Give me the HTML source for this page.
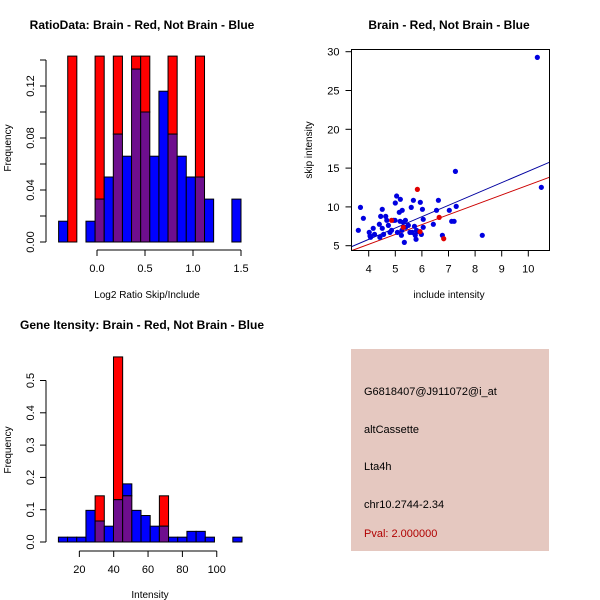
<!DOCTYPE html>
<html><head><meta charset="utf-8"><style>
html,body{margin:0;padding:0;background:#fff}
svg{display:block;font-family:"Liberation Sans",Arial,sans-serif}
</style></head><body>
<svg id="c" width="600" height="600" viewBox="0 0 600 600" xmlns="http://www.w3.org/2000/svg"></svg>
<script>
// ---- Panel 1: ratio histogram ----
const ratioBreakStart = -0.4, ratioBreakEnd = 1.5, ratioBins = 20;
const ratioBlue = [0.016,0,0,0.016,0.033,0.05,0.083,0.066,0.133,0.1,0.066,0.116,0.083,0.066,0.05,0.05,0.033,0,0,0.033];
const ratioRed  = [0,0.143,0,0,0.143,0,0.143,0,0.143,0.143,0,0,0.143,0,0,0.143,0,0,0,0];
const ratioYTicks = [0,0.02,0.04,0.06,0.08,0.10,0.12,0.14];
const ratioYLabels = ["0.00","","0.04","","0.08","","0.12",""];
const ratioXTicks = [0,0.5,1,1.5];
const ratioXLabels = ["0.0","0.5","1.0","1.5"];
// ---- Panel 3: intensity histogram ----
const intBreakStart = 7.8, intBreakEnd = 114.7, intBins = 20;
const intBlue = [0.015,0.015,0.015,0.098,0.065,0.049,0.131,0.18,0.098,0.082,0.049,0.049,0.015,0.015,0.033,0.033,0.015,0,0,0.015];
const intRed  = [0,0,0,0,0.143,0,0.573,0.143,0,0,0,0.143,0,0,0,0,0,0,0,0];
const intYTicks = [0,0.1,0.2,0.3,0.4,0.5];
const intYLabels = ["0.0","0.1","0.2","0.3","0.4","0.5"];
const intXTicks = [20,40,60,80,100];
const intXLabels = ["20","40","60","80","100"];
// ---- Panel 2: scatter ----
const blueX = [4.02,4.07,4.17,4.22,4.05,4.40,4.45,4.51,4.51,4.64,4.68,4.74,4.56,4.42,4.80,4.86,4.93,4.99,5.00,5.05,5.08,5.19,5.15,5.26,5.18,5.23,5.30,5.38,5.34,5.39,5.49,5.60,5.68,5.64,5.72,5.75,5.78,5.83,5.94,6.02,5.98,6.05,6.05,6.43,6.55,6.62,6.77,7.03,7.12,7.21,7.29,5.55,5.25,5.80,7.26,8.27,3.69,3.61,3.80,10.34,10.49];
const blueY = [6.72,6.08,7.24,6.46,6.25,7.76,8.78,9.69,7.24,8.78,8.27,7.62,6.46,6.08,6.72,6.98,8.27,8.27,10.50,11.40,6.72,10.98,9.30,9.56,8.14,6.34,8.01,8.27,5.43,7.37,7.62,9.94,10.85,6.72,7.50,6.34,5.82,6.81,10.59,9.69,6.46,8.40,7.37,7.76,9.56,10.85,6.34,9.56,8.14,8.14,10.07,6.72,6.98,6.98,14.58,6.34,9.94,6.98,8.53,29.27,12.52];
const redX = [5.83,6.65,6.82,4.86,5.30,5.93];
const redY = [12.26,8.65,5.90,8.27,7.37,6.81];
const blueFit = [-0.03,1.462]; // intercept, slope
const redFit = [0.09,1.272];
const scXTicks = [4,5,6,7,8,9,10];
const scYTicks = [5,10,15,20,25,30];

const NS="http://www.w3.org/2000/svg";
const svg=document.getElementById('c');
function mk(tag,attrs,parent){const e=document.createElementNS(NS,tag);for(const k in attrs)e.setAttribute(k,attrs[k]);(parent||svg).appendChild(e);return e;}
function txt(s,x,y,attrs,parent){const e=mk('text',Object.assign({x:x,y:y,'font-size':11,'text-anchor':'middle',fill:'#000'},attrs||{}),parent);e.textContent=s;return e;}

function hist(name,cfg){
  const g=mk('g',{});
  
  
  const xs=v=>cfg.x0px+(v-cfg.x0)*cfg.xScale;
  const ys=v=>cfg.y0px-v*cfg.yScale;
  const w=(cfg.bEnd-cfg.bStart)/cfg.n;
  for(let i=0;i<cfg.n;i++){
    const a=xs(cfg.bStart+i*w), b=xs(cfg.bStart+(i+1)*w);
    const bl=cfg.blue[i], rd=cfg.red[i], ov=Math.min(bl,rd);
    const segs=[];
    if(bl>rd) segs.push([rd,bl,'#0000ff']);
    if(rd>bl) segs.push([bl,rd,'#ff0000']);
    if(ov>0) segs.push([0,ov,'#6e0e8e']);
    segs.forEach(s=>{
      const r=mk('rect',{x:a,y:ys(s[1]),width:b-a,height:ys(s[0])-ys(s[1]),fill:s[2],stroke:'#000','stroke-width':1},g);
      
      
    });
  }
  // y axis
  const ya=mk('g',{},g);
  
  
  const yt=cfg.yTicks;
  mk('line',{x1:cfg.yAxisX,x2:cfg.yAxisX,y1:ys(yt[0]),y2:ys(yt[yt.length-1]),stroke:'#000'},ya);
  yt.forEach((t,i)=>{
    mk('line',{x1:cfg.yAxisX-6,x2:cfg.yAxisX,y1:ys(t),y2:ys(t),stroke:'#000'},ya);
    if(cfg.yLabels[i]) txt(cfg.yLabels[i],0,0,{transform:`translate(${cfg.yAxisX-12},${ys(t)}) rotate(-90)`},ya);
  });
  const xa=mk('g',{},g);
  
  
  const xt=cfg.xTicks;
  mk('line',{x1:xs(xt[0]),x2:xs(xt[xt.length-1]),y1:cfg.xAxisY,y2:cfg.xAxisY,stroke:'#000'},xa);
  xt.forEach((t,i)=>{
    mk('line',{x1:xs(t),x2:xs(t),y1:cfg.xAxisY,y2:cfg.xAxisY+6,stroke:'#000'},xa);
    txt(cfg.xLabels[i],xs(t),cfg.xAxisY+22,{},xa);
  });
}
hist('ratio-histogram',{x0:0,x0px:97,xScale:96,y0px:242,yScale:1300,bStart:ratioBreakStart,bEnd:ratioBreakEnd,n:ratioBins,blue:ratioBlue,red:ratioRed,yTicks:ratioYTicks,yLabels:ratioYLabels,xTicks:ratioXTicks,xLabels:ratioXLabels,yAxisX:46,xAxisY:250});
hist('intensity-histogram',{x0:0,x0px:45,xScale:1.7175,y0px:542,yScale:323,bStart:intBreakStart,bEnd:intBreakEnd,n:intBins,blue:intBlue,red:intRed,yTicks:intYTicks,yLabels:intYLabels,xTicks:intXTicks,xLabels:intXLabels,yAxisX:46,xAxisY:551});

let t;
t=txt('RatioData: Brain - Red, Not Brain - Blue',142,29,{'font-weight':'bold','font-size':12});

t=txt('Log2 Ratio Skip/Include',147,298,{'font-size':10});

t=txt('Frequency',0,0,{'font-size':10,transform:'translate(11,148) rotate(-90)'});

t=txt('Gene Itensity: Brain - Red, Not Brain - Blue',142,329,{'font-weight':'bold','font-size':12});

t=txt('Intensity',150,598,{'font-size':10});

t=txt('Frequency',0,0,{'font-size':10,transform:'translate(11,450) rotate(-90)'});


// scatter
const sg=mk('g',{});


const sx=v=>368.7+(v-4)*26.6, sy=v=>245.7-(v-5)*7.76;
const L=351.5,R=549.5,T=49.5,B=250.5;
const cp=mk('clipPath',{id:'scclip'},sg);mk('rect',{x:L,y:T,width:R-L,height:B-T},cp);
[[blueFit,'#0000a0','blue-fit-line'],[redFit,'#cc0000','red-fit-line']].forEach(f=>{
  const xa=3.3,xb=10.9;
  const l=mk('line',{x1:sx(xa),y1:sy(f[0][0]+f[0][1]*xa),x2:sx(xb),y2:sy(f[0][0]+f[0][1]*xb),stroke:f[1],'stroke-width':1,'clip-path':'url(#scclip)'},sg);
  
});
blueX.forEach((v,i)=>{const c=mk('circle',{cx:sx(v),cy:sy(blueY[i]),r:2.6,fill:'#0000e0'},sg);
  });
redX.forEach((v,i)=>{const c=mk('circle',{cx:sx(v),cy:sy(redY[i]),r:2.6,fill:'#e00000'},sg);
  });
mk('rect',{x:L,y:T,width:R-L,height:B-T,fill:'none',stroke:'#000'},sg);
scXTicks.forEach(v=>{mk('line',{x1:sx(v),x2:sx(v),y1:B,y2:B+6,stroke:'#000'},sg);txt(String(v),sx(v),B+22,{'font-size':11},sg);});
scYTicks.forEach(v=>{mk('line',{x1:L-6,x2:L,y1:sy(v),y2:sy(v),stroke:'#000'},sg);txt(String(v),L-12,sy(v)+4,{'font-size':11,'text-anchor':'end'},sg);});
t=txt('Brain - Red, Not Brain - Blue',449,29,{'font-weight':'bold','font-size':12});

t=txt('include intensity',449,298,{'font-size':10});

t=txt('skip intensity',0,0,{'font-size':10,transform:'translate(312,150) rotate(-90)'});


// info panel
const ig=mk('g',{});


mk('rect',{x:351,y:349,width:198,height:202,fill:'#e5c8c0'},ig);
[['G6818407@J911072@i_at',395,'#000','probe-id'],['altCassette',433,'#000','event-type'],['Lta4h',470,'#000','gene-name'],['chr10.2744-2.34',508,'#000','location'],['Pval: 2.000000',537,'#b00000','p-value']].forEach(a=>{
  const e=txt(a[0],364,a[1],{'font-size':11,'text-anchor':'start',fill:a[2]},ig);
  
});
</script>
</body></html>
